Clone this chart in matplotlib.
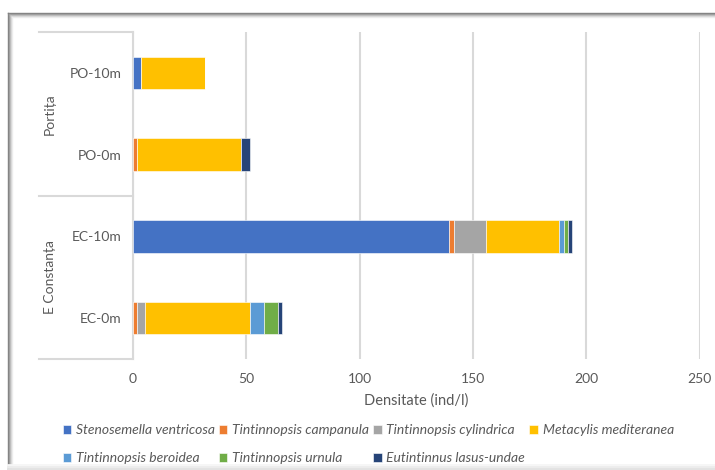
import matplotlib
matplotlib.use("Agg")
import matplotlib.pyplot as plt
import matplotlib.transforms as mtransforms
from matplotlib.lines import Line2D
import numpy as np

plt.rcParams['font.family'] = ['Lato', 'DejaVu Sans']

categories = ["EC-0m", "EC-10m", "PO-0m", "PO-10m"]
groups = ["E Constanța", "Portița"]
series_names = ["Stenosemella ventricosa", "Tintinnopsis campanula", "Tintinnopsis cylindrica",
                "Metacylis mediteranea", "Tintinnopsis beroidea", "Tintinnopsis urnula",
                "Eutintinnus lasus-undae"]
stenosemella = [0, 139.6, 0, 3.4]
campanula = [1.8, 2.0, 1.8, 0]
cylindrica = [3.7, 14.3, 0, 0]
metacylis = [46.3, 32.1, 45.9, 28.4]
beroidea = [6.0, 2.0, 0, 0]
urnula = [6.0, 2.0, 0, 0]
eutintinnus = [2.0, 1.9, 4.0, 0]
series_values = [stenosemella, campanula, cylindrica, metacylis, beroidea, urnula, eutintinnus]
colors = ["#4472C4", "#ED7D31", "#A5A5A5", "#FFC000", "#5B9BD5", "#70AD47", "#264478"]
xticks = [0, 50, 100, 150, 200, 250]

W, H = 715, 470
fig = plt.figure(figsize=(W / 100, H / 100), dpi=100)
fig.patch.set_facecolor("white")

# screenshot-like frame shadow
for i, c in enumerate(["#7f7f7f", "#9a9a9a", "#b8b8b8", "#d4d4d4", "#ececec"]):
    fig.add_artist(Line2D([(8 + i) / W, 1], [1 - (13 + i) / H] * 2, color=c, lw=1.0,
                          transform=fig.transFigure))
    fig.add_artist(Line2D([(8 + i) / W] * 2, [0, 1 - (13 + i) / H], color=c, lw=1.0,
                          transform=fig.transFigure))
for i, c in enumerate(["#f6f6f6", "#ececec", "#e2e2e2"]):
    fig.add_artist(Line2D([8 / W, 1], [(5 - 2 * i) / H] * 2, color=c, lw=2.0,
                          transform=fig.transFigure))

left, right = 133 / W, 699.5 / W
bottom, top = 1 - 359 / H, 1 - 32 / H
ax = fig.add_axes([left, bottom, right - left, top - bottom])

y = np.arange(len(categories))
cum = np.zeros(len(categories))
handles = []
for name, vals, col in zip(series_names, series_values, colors):
    v = np.array(vals, dtype=float)
    b = ax.barh(y, v, left=cum, height=0.4, color=col, edgecolor="white", linewidth=0.4,
                label=name, zorder=3)
    handles.append(b)
    cum += v

ax.set_xlim(0, 250)
ax.set_ylim(-0.5, len(categories) - 0.5)
ax.set_xticks(xticks)
ax.set_xticklabels([str(t) for t in xticks])
ax.set_yticks(y)
ax.set_yticklabels(categories)
ax.tick_params(axis="both", length=0, colors="#595959", labelsize=10)
ax.tick_params(axis="x", pad=10)
ax.tick_params(axis="y", pad=8.5)
ax.xaxis.grid(True, color="#D9D9D9", lw=1.5, zorder=0)
for s in ["top", "right", "bottom"]:
    ax.spines[s].set_visible(False)
ax.spines["left"].set_color("#D9D9D9")
ax.spines["left"].set_linewidth(1.5)
ax.set_xlabel("Densitate (ind/l)", color="#595959", fontsize=10.5, labelpad=6)

# category-group axis lines
trans = mtransforms.blended_transform_factory(fig.transFigure, ax.transData)
x0 = 39 / W
for yy in [-0.5, 1.5, 3.5]:
    ax.add_line(Line2D([x0, left], [yy, yy], color="#D9D9D9", lw=1.5, transform=trans,
                       clip_on=False))
for g, yc in zip(groups, [0.5, 2.5]):
    ax.text(50 / W, yc, g, transform=trans, rotation=90, ha="center", va="center",
            color="#595959", fontsize=10)

order = [0, 4, 1, 5, 2, 6, 3]
leg = fig.legend([handles[i] for i in order], [series_names[i] for i in order],
                 loc="upper left", bbox_to_anchor=(50 / W, 1 - 412 / H), ncol=4,
                 frameon=False, handlelength=0.6, handleheight=0.6, handletextpad=0.35,
                 columnspacing=0.3, labelspacing=1.15,
                 prop={"style": "italic", "size": 10})
for t in leg.get_texts():
    t.set_color("#595959")

fig.savefig("out.png", dpi=100, facecolor="white")
